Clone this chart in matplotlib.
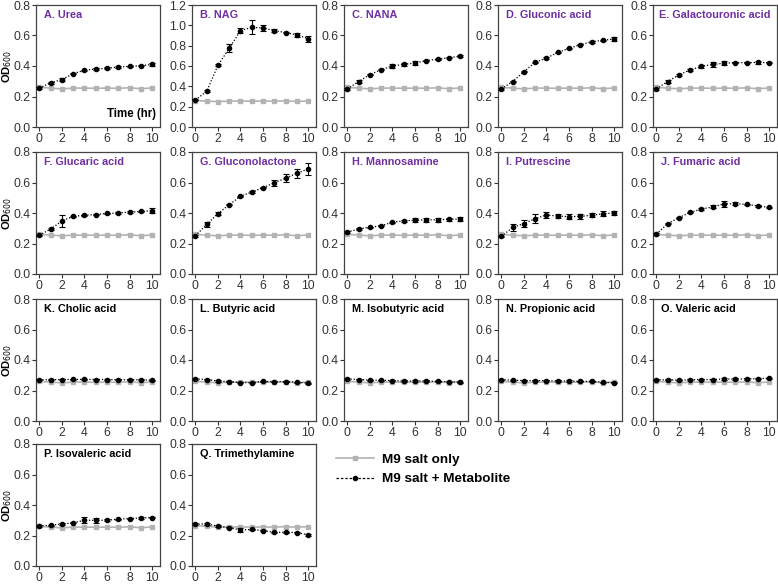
import matplotlib
matplotlib.use("Agg")
import matplotlib.pyplot as plt
import numpy as np

plt.rcParams['font.family'] = ['Liberation Sans', 'DejaVu Sans']

hours = np.arange(11)

titles = ["A. Urea", "B. NAG", "C. NANA", "D. Gluconic acid", "E. Galactouronic acid",
          "F. Glucaric acid", "G. Gluconolactone", "H. Mannosamine", "I. Putrescine", "J. Fumaric acid",
          "K. Cholic acid", "L. Butyric acid", "M. Isobutyric acid", "N. Propionic acid", "O. Valeric acid",
          "P. Isovaleric acid", "Q. Trimethylamine"]

ctrl = [0.260, 0.255, 0.250, 0.255, 0.255, 0.254, 0.255, 0.254, 0.257, 0.251, 0.256]
ctrl_q = [0.265, 0.260, 0.255, 0.256, 0.256, 0.255, 0.256, 0.255, 0.258, 0.255, 0.258]

metab = {
    "A. Urea": [0.255, 0.290, 0.311, 0.350, 0.372, 0.380, 0.385, 0.393, 0.398, 0.402, 0.410],
    "B. NAG": [0.266, 0.350, 0.607, 0.773, 0.948, 0.980, 0.974, 0.948, 0.929, 0.906, 0.870],
    "C. NANA": [0.250, 0.298, 0.344, 0.376, 0.400, 0.410, 0.420, 0.435, 0.445, 0.454, 0.465],
    "D. Gluconic acid": [0.250, 0.298, 0.363, 0.424, 0.452, 0.489, 0.515, 0.540, 0.558, 0.569, 0.577],
    "E. Galactouronic acid": [0.250, 0.298, 0.342, 0.374, 0.398, 0.410, 0.418, 0.422, 0.422, 0.423, 0.422],
    "F. Glucaric acid": [0.254, 0.295, 0.348, 0.378, 0.385, 0.390, 0.397, 0.400, 0.406, 0.410, 0.415],
    "G. Gluconolactone": [0.250, 0.325, 0.396, 0.454, 0.510, 0.538, 0.566, 0.598, 0.628, 0.660, 0.688],
    "H. Mannosamine": [0.275, 0.295, 0.307, 0.316, 0.340, 0.348, 0.353, 0.355, 0.356, 0.358, 0.360],
    "I. Putrescine": [0.247, 0.305, 0.331, 0.363, 0.387, 0.380, 0.376, 0.378, 0.385, 0.395, 0.400],
    "J. Fumaric acid": [0.262, 0.329, 0.370, 0.404, 0.426, 0.440, 0.460, 0.461, 0.457, 0.446, 0.437],
    "K. Cholic acid": [0.270, 0.270, 0.272, 0.273, 0.273, 0.272, 0.272, 0.271, 0.270, 0.270, 0.268],
    "L. Butyric acid": [0.275, 0.272, 0.262, 0.258, 0.252, 0.252, 0.260, 0.258, 0.258, 0.255, 0.248],
    "M. Isobutyric acid": [0.275, 0.272, 0.268, 0.268, 0.265, 0.262, 0.262, 0.262, 0.260, 0.258, 0.255],
    "N. Propionic acid": [0.270, 0.268, 0.265, 0.265, 0.265, 0.262, 0.262, 0.260, 0.260, 0.255, 0.250],
    "O. Valeric acid": [0.270, 0.270, 0.268, 0.270, 0.272, 0.272, 0.275, 0.275, 0.276, 0.278, 0.280],
    "P. Isovaleric acid": [0.262, 0.268, 0.275, 0.283, 0.300, 0.300, 0.300, 0.307, 0.311, 0.315, 0.318],
    "Q. Trimethylamine": [0.275, 0.275, 0.262, 0.251, 0.236, 0.240, 0.232, 0.221, 0.221, 0.219, 0.204],
}

metab_err = {
    "A. Urea": [0.005, 0.008, 0.010, 0.004, 0.004, 0.004, 0.006, 0.004, 0.004, 0.004, 0.012],
    "B. NAG": [0.005, 0.010, 0.008, 0.040, 0.025, 0.070, 0.030, 0.012, 0.008, 0.020, 0.030],
    "C. NANA": [0.005, 0.008, 0.005, 0.005, 0.010, 0.012, 0.012, 0.005, 0.004, 0.004, 0.004],
    "D. Gluconic acid": [0.005, 0.004, 0.005, 0.004, 0.004, 0.004, 0.004, 0.004, 0.004, 0.004, 0.010],
    "E. Galactouronic acid": [0.005, 0.008, 0.005, 0.004, 0.010, 0.015, 0.012, 0.005, 0.005, 0.010, 0.004],
    "F. Glucaric acid": [0.005, 0.004, 0.040, 0.005, 0.004, 0.004, 0.004, 0.004, 0.004, 0.004, 0.015],
    "G. Gluconolactone": [0.005, 0.015, 0.010, 0.004, 0.004, 0.004, 0.004, 0.020, 0.025, 0.030, 0.040],
    "H. Mannosamine": [0.004, 0.004, 0.004, 0.004, 0.004, 0.005, 0.012, 0.012, 0.012, 0.012, 0.012],
    "I. Putrescine": [0.005, 0.025, 0.020, 0.030, 0.020, 0.012, 0.015, 0.015, 0.012, 0.015, 0.015],
    "J. Fumaric acid": [0.004, 0.004, 0.004, 0.004, 0.004, 0.010, 0.020, 0.010, 0.004, 0.005, 0.004],
    "K. Cholic acid": [0.004] * 11,
    "L. Butyric acid": [0.004] * 11,
    "M. Isobutyric acid": [0.004] * 11,
    "N. Propionic acid": [0.004] * 11,
    "O. Valeric acid": [0.004] * 11,
    "P. Isovaleric acid": [0.004, 0.004, 0.004, 0.004, 0.020, 0.015, 0.005, 0.004, 0.004, 0.004, 0.004],
    "Q. Trimethylamine": [0.004, 0.004, 0.004, 0.004, 0.010, 0.004, 0.004, 0.004, 0.004, 0.004, 0.004],
}

purple = "#7030a0"
grey = "#b3b3b3"

fig = plt.figure(figsize=(7.78, 5.85), dpi=100)
W, H = 778.0, 585.0
col_left = [36, 192, 344, 498, 653]
row_top = [5, 152, 299, 444]
aw, ah = 124, 122

for i, name in enumerate(titles):
    r, c = divmod(i, 5)
    ax = fig.add_axes([col_left[c] / W, 1 - (row_top[r] + ah) / H, aw / W, ah / H])
    ax.plot(hours, ctrl_q if name.startswith("Q") else ctrl, "-", color=grey, lw=1.2,
            marker="s", ms=3.5, mec=grey, mfc=grey, zorder=2)
    ax.errorbar(hours, metab[name], yerr=metab_err[name], fmt="o", ls=(0, (1, 1.5)),
                color="black", lw=0.9, ms=3, capsize=2, elinewidth=0.8, capthick=0.8, zorder=3)
    ax.set_xlim(-0.3, 10.7)
    if name.startswith("B"):
        ax.set_ylim(0, 1.2)
        ax.set_yticks(np.arange(0, 1.21, 0.2))
    else:
        ax.set_ylim(0, 0.8)
        ax.set_yticks(np.arange(0, 0.81, 0.2))
    ax.set_yticklabels([f"{v:.1f}" for v in ax.get_yticks()])
    ax.set_xticks(range(0, 11, 2))
    ax.tick_params(labelsize=8.8, length=3, width=0.8, pad=1.2, colors="#333333")
    for s in ax.spines.values():
        s.set_linewidth(0.9)
        s.set_color("#444444")
    ax.text(0.045 if name.startswith("E") else 0.065, 0.955, name, transform=ax.transAxes,
            fontsize=7.8, fontweight="bold",
            color=purple if i < 10 else "black", va="top", ha="left")
    if c == 0:
        ax.set_ylabel("OD$_{600}$", fontsize=8, fontweight="bold")
        ax.yaxis.set_label_coords(-0.175, 0.5)
    if i == 0:
        ax.text(0.97, 0.06, "Time (hr)", transform=ax.transAxes, fontsize=8.3,
                fontweight="bold", ha="right", va="bottom")

h1, = plt.plot([], [], "-", color=grey, lw=1.2, marker="s", ms=3.5)
h2, = plt.plot([], [], ls=(0, (2, 1.5)), color="black", lw=0.9, marker="o", ms=3)
fig.legend([h1, h2], ["M9 salt only", "M9 salt + Metabolite"], loc="upper left",
           bbox_to_anchor=(324 / W, 1 - 441 / H), frameon=False,
           prop={"weight": "bold", "size": 9.7}, handlelength=2.8, labelspacing=0.55,
           handletextpad=0.6)

fig.savefig("out.png", dpi=100)
